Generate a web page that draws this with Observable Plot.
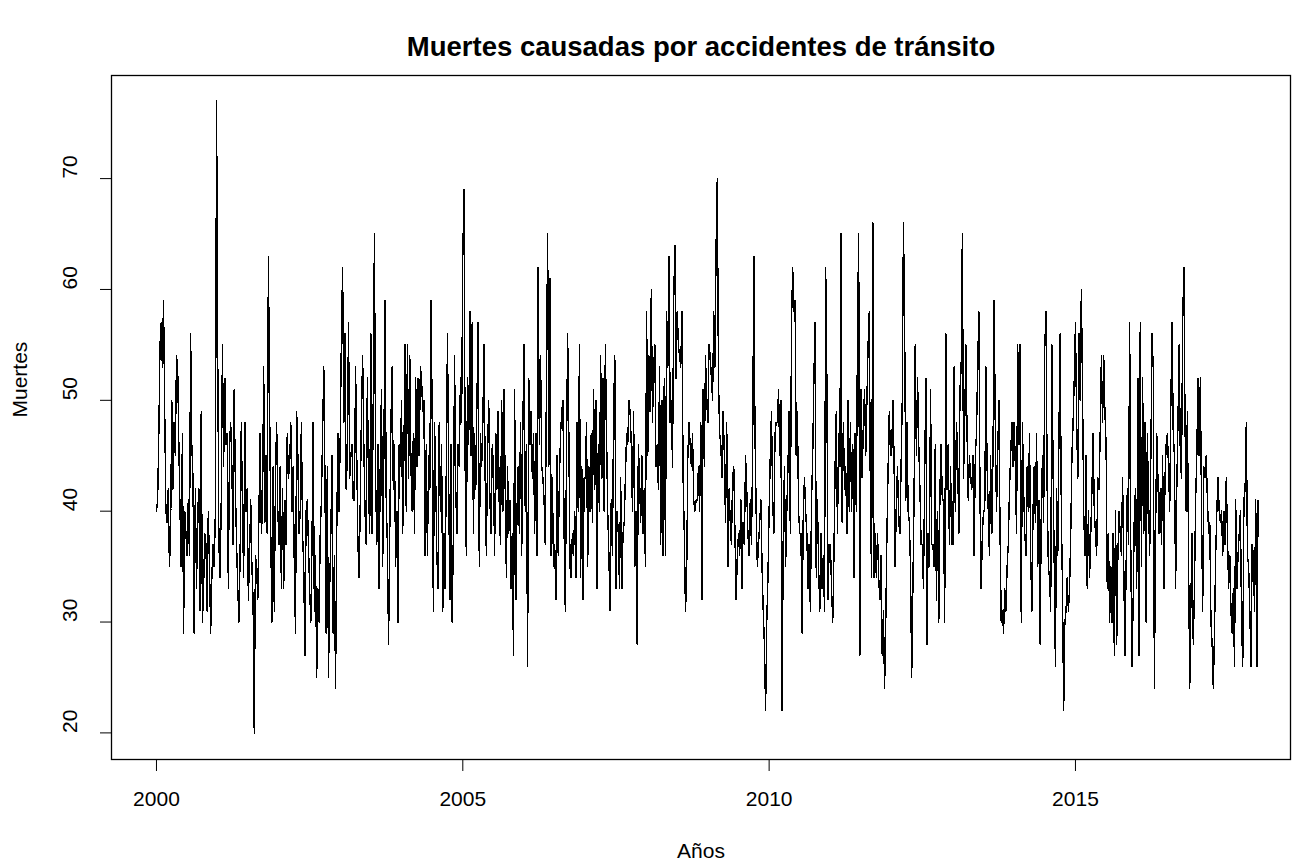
<!DOCTYPE html>
<html>
<head>
<meta charset="utf-8">
<script src="https://cdn.jsdelivr.net/npm/d3@7"></script>
<script src="https://cdn.jsdelivr.net/npm/@observablehq/plot@0.6"></script>
<style>
  body { margin: 0; background: #ffffff; }
  #chart svg { display: block; }
</style>
</head>
<body>
<div id="chart"></div>
<script>
// Weekly road-traffic deaths, 52 observations per year (ts with frequency 52)
const startYear = 2000;
const perYear = 52;

const y2000 = [40,41,47,55,57,53,59,49,40,39,42,35,38,50,42,48,45,54,53,46,40,35,47,29,40,38,36,41,36,56,46,43,29,42,33,40,42,31,49,30,33,38,37,31,40,35,29,34,37,35,40,77];
const y2001 = [54,37,34,41,55,44,52,46,47,33,46,48,44,37,51,42,37,33,30,36,48,40,34,48,40,42,32,36,41,35,32,20,36,35,32,40,47,38,40,53,39,45,38,63,50,38,30,44,31,43,48,40];
const y2002 = [37,44,33,42,33,41,37,47,43,44,48,40,44,35,29,49,45,38,40,48,38,35,27,40,41,37,33,30,37,48,31,36,25,33,30,38,41,47,53,43,29,44,25,33,38,45,29,36,24,38,47,40];
const y2003 = [47,56,62,48,56,42,45,57,43,45,46,41,41,53,45,37,34,41,49,54,46,40,37,52,42,38,56,38,50,65,43,37,46,33,45,51,35,45,59,41,37,28,38,48,53,42,46,35,40,30,46,44];
const y2004 = [50,38,45,55,40,55,43,54,44,40,47,38,52,44,52,45,53,52,49,50,36,46,36,45,42,59,49,31,48,43,36,33,48,40,46,31,38,33,44,56,43,32,46,30,38,54,42,38,46,44,52,48];
const y2005 = [63,69,44,36,52,46,58,45,57,38,47,42,50,57,35,47,44,48,55,43,36,45,50,41,38,46,44,36,47,42,49,40,37,50,40,51,42,34,44,38,41,33,38,27,51,32,40,44,38,48,36,48];
const y2006 = [55,40,46,26,52,46,49,43,47,38,47,36,62,46,54,44,43,41,37,52,65,44,61,36,43,35,37,32,45,36,43,47,49,50,38,31,45,56,47,35,34,38,36,40,34,48,40,55,34,44,32,43];
const y2007 = [43,48,35,44,40,47,39,51,42,50,33,46,40,54,43,52,40,55,47,40,36,31,41,36,49,54,33,40,38,33,43,33,38,39,43,47,46,50,49,46,40,49,35,40,28,46,43,39,45,38,42,35];
const y2008 = [58,45,54,49,60,48,53,55,44,46,42,53,37,50,36,52,36,58,53,63,48,50,44,59,64,52,58,55,54,53,58,43,38,31,34,45,48,46,44,47,41,40,41,41,44,40,48,32,51,44,54,50];
const y2009 = [48,55,54,52,50,58,53,64,70,52,47,46,43,49,45,39,48,35,42,39,37,43,44,38,32,36,38,36,41,33,39,37,45,42,38,36,41,37,45,63,47,40,35,37,39,41,35,31,28,22,30,34];
const y2010 = [40,45,49,41,38,47,48,48,51,45,50,22,38,44,35,40,44,49,38,57,62,58,59,45,49,40,38,38,29,40,43,40,38,33,37,31,41,45,52,57,34,41,35,31,38,33,36,31,62,52,32,37];
const y2011 = [37,33,30,36,44,49,38,47,44,65,39,48,42,44,38,50,40,48,40,46,34,47,40,56,65,27,51,43,48,51,45,50,55,58,40,34,66,34,38,34,38,34,32,36,27,31,24,30,38,44,49,45];
const y2012 = [45,50,45,35,41,44,39,38,44,50,66,57,41,48,40,39,35,25,33,41,55,45,52,46,42,37,37,33,43,52,28,38,35,51,37,37,35,46,32,40,30,42,46,41,41,30,56,42,46,37,44,37];
const y2013 = [37,53,40,48,45,38,51,53,65,43,48,55,47,41,45,43,42,45,36,45,47,53,58,41,33,38,40,40,53,44,40,36,45,38,45,59,47,40,45,50,38,30,31,29,33,31,35,37,42,45,48,44];
const y2014 = [48,44,38,55,46,55,30,48,42,38,36,44,40,47,36,31,40,44,39,47,35,41,28,40,45,39,55,58,42,35,34,31,55,44,35,26,42,36,47,56,40,33,22,30,31,34,31,33,38,45,48,52];
const y2015 = [57,48,43,56,50,60,51,40,36,45,33,40,34,38,42,47,40,38,36,43,42,47,54,48,54,49,46,33,38,30,35,30,38,27,40,28,36,40,38,36,43,35,27,35,42,37,57,36,26,32,40,42];
const y2016 = [33,52,27,57,35,52,38,48,30,47,41,36,45,56,53,24,38,47,43,38,42,37,45,33,43,46,47,44,40,50,57,47,45,33,42,48,55,45,43,57,62,48,40,49,36,24,32,38,28,33,41,45];
const y2017 = [52,45,52,40,31,44,43,45,41,38,39,30,28,24,29,36,40,43,40,39,40,36,40,37,43,38,33,36,31,29,33,26,41,33,36,38,40,30,26,41,42,48,36,35,31,26,37,36,31,41,26,41];

const yearly = [y2000, y2001, y2002, y2003, y2004, y2005, y2006, y2007, y2008,
                y2009, y2010, y2011, y2012, y2013, y2014, y2015, y2016, y2017];

const xTicks = [2000, 2005, 2010, 2015];
const yTicks = [20, 30, 40, 50, 60, 70];

const title = "Muertes causadas por accidentes de tránsito";
const xLabel = "Años";
const yLabel = "Muertes";

// time index of each weekly observation: year + week / 52
const series = yearly.flatMap((vals, k) =>
  vals.map((v, w) => ({ t: startYear + k + w / perYear, deaths: v }))
);

const font = "'Liberation Sans', Arial, Helvetica, sans-serif";

const chart = Plot.plot({
  width: 1301,
  height: 866,
  marginLeft: 111,
  marginRight: 11,
  marginTop: 75,
  marginBottom: 107,
  style: { fontFamily: font, fontSize: "21px", color: "#000", background: "#ffffff" },
  x: { domain: [1999.266, 2018.51], label: null },
  y: { domain: [17.6, 79.3], label: null },
  marks: [
    Plot.frame({ stroke: "#000", strokeWidth: 1.3 }),
    Plot.lineY(series, { x: "t", y: "deaths", stroke: "#000", strokeWidth: 1.4, shapeRendering: "crispEdges" }),
    Plot.axisX({ ticks: xTicks, tickSize: 12, tickPadding: 20, tickFormat: (d) => String(d), fontSize: 21, label: null }),
    Plot.axisY({ ticks: yTicks, tickSize: 11, tickFormat: () => "", label: null }),
    Plot.text(yTicks, { y: (d) => d, text: (d) => String(d), frameAnchor: "left", dx: -41, rotate: -90, fontSize: 21, lineAnchor: "middle" }),
    Plot.text([yLabel], { frameAnchor: "left", dx: -91, rotate: -90, fontSize: 21, lineAnchor: "middle" }),
    Plot.text([xLabel], { frameAnchor: "bottom", dy: 92, fontSize: 21, lineAnchor: "middle" }),
    Plot.text([title], { frameAnchor: "top", dy: -28, fontSize: 27.5, fontWeight: "bold", lineAnchor: "middle" })
  ]
});

document.getElementById("chart").appendChild(chart);
</script>
</body>
</html>
